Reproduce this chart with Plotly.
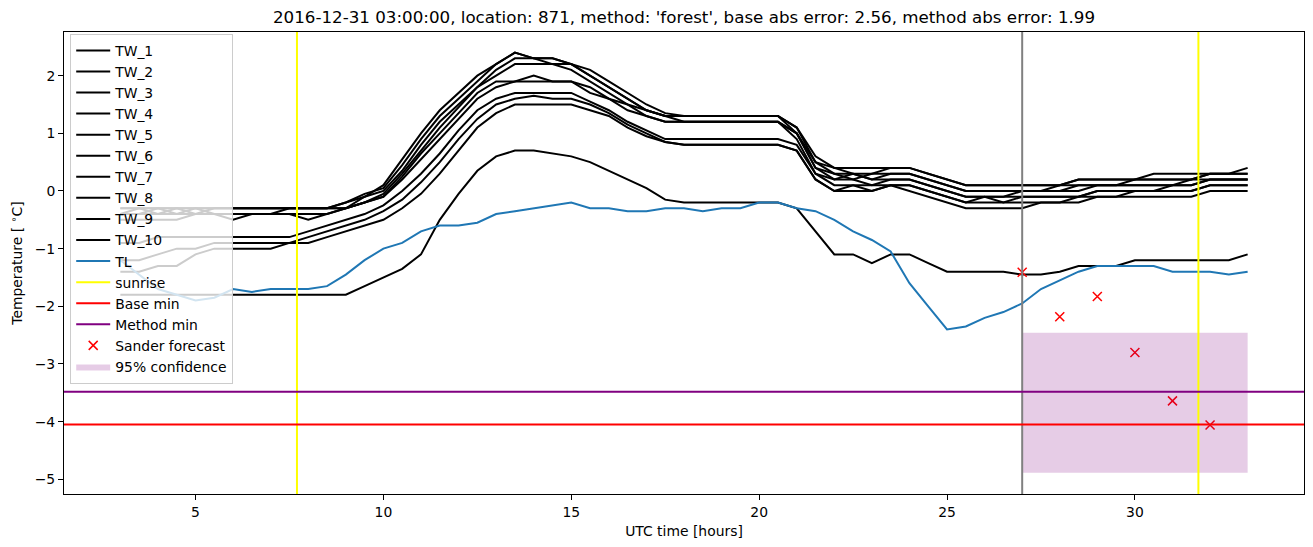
import plotly.graph_objects as go

# ---------------- data ----------------
HOURS = [3.0, 3.5, 4.0, 4.5, 5.0, 5.5, 6.0, 6.5, 7.0, 7.5, 8.0, 8.5, 9.0, 9.5, 10.0, 10.5,
         11.0, 11.5, 12.0, 12.5, 13.0, 13.5, 14.0, 14.5, 15.0, 15.5, 16.0, 16.5, 17.0, 17.5,
         18.0, 18.5, 19.0, 19.5, 20.0, 20.5, 21.0, 21.5, 22.0, 22.5, 23.0, 23.5, 24.0, 24.5,
         25.0, 25.5, 26.0, 26.5, 27.0, 27.5, 28.0, 28.5, 29.0, 29.5, 30.0, 30.5, 31.0, 31.5,
         32.0, 32.5, 33.0]

TW_1 = [-0.3, -0.3, -0.3, -0.3, -0.3, -0.3, -0.3, -0.3, -0.3, -0.3, -0.3, -0.3, -0.2, -0.1, 0.1, 0.55,
        1.0, 1.4, 1.7, 2.0, 2.2, 2.4, 2.3, 2.3, 2.2, 2.0, 1.8, 1.6, 1.4, 1.3,
        1.3, 1.3, 1.3, 1.3, 1.3, 1.3, 1.1, 0.6, 0.4, 0.4, 0.4, 0.4, 0.4, 0.3,
        0.2, 0.1, 0.1, 0.1, 0.1, 0.1, 0.1, 0.2, 0.2, 0.2, 0.2, 0.3, 0.3, 0.3,
        0.3, 0.3, 0.4]
TW_2 = [-0.4, -0.3, -0.4, -0.3, -0.4, -0.3, -0.3, -0.3, -0.3, -0.3, -0.3, -0.3, -0.2, -0.05, 0.05, 0.45,
        0.9, 1.3, 1.6, 1.9, 2.2, 2.4, 2.3, 2.3, 2.2, 2.1, 1.9, 1.7, 1.5, 1.35,
        1.3, 1.3, 1.3, 1.3, 1.3, 1.3, 1.1, 0.5, 0.4, 0.3, 0.3, 0.4, 0.4, 0.3,
        0.2, 0.1, 0.1, 0.1, 0.1, 0.1, 0.1, 0.2, 0.2, 0.2, 0.2, 0.2, 0.2, 0.2,
        0.3, 0.3, 0.3]
TW_3 = [-0.4, -0.4, -0.3, -0.4, -0.3, -0.4, -0.4, -0.4, -0.4, -0.3, -0.3, -0.3, -0.3, -0.1, 0.0, 0.35,
        0.8, 1.2, 1.5, 1.8, 2.1, 2.3, 2.3, 2.2, 2.2, 2.0, 1.8, 1.6, 1.4, 1.3,
        1.2, 1.2, 1.2, 1.2, 1.2, 1.2, 1.0, 0.5, 0.3, 0.3, 0.2, 0.3, 0.3, 0.2,
        0.1, 0.0, 0.0, 0.0, 0.0, 0.0, 0.1, 0.1, 0.1, 0.1, 0.2, 0.2, 0.2, 0.2,
        0.3, 0.3, 0.3]
TW_4 = [-0.4, -0.4, -0.4, -0.4, -0.4, -0.4, -0.5, -0.4, -0.4, -0.4, -0.5, -0.4, -0.3, -0.2, -0.05, 0.3,
        0.7, 1.1, 1.45, 1.8, 2.0, 2.2, 2.2, 2.2, 2.1, 1.9, 1.7, 1.5, 1.3, 1.2,
        1.2, 1.2, 1.2, 1.2, 1.2, 1.2, 1.0, 0.4, 0.3, 0.2, 0.3, 0.3, 0.3, 0.2,
        0.1, 0.0, 0.0, 0.0, 0.0, 0.0, 0.0, 0.1, 0.1, 0.1, 0.1, 0.1, 0.1, 0.2,
        0.2, 0.2, 0.2]
TW_5 = [-0.5, -0.5, -0.5, -0.5, -0.4, -0.4, -0.4, -0.4, -0.4, -0.4, -0.4, -0.4, -0.3, -0.2, -0.1, 0.25,
        0.65, 1.0, 1.35, 1.7, 1.9, 1.9, 2.0, 1.9, 1.9, 1.8, 1.6, 1.5, 1.4, 1.3,
        1.3, 1.3, 1.3, 1.3, 1.3, 1.3, 1.0, 0.4, 0.2, 0.3, 0.2, 0.2, 0.2, 0.1,
        0.0, -0.1, -0.1, -0.1, 0.0, 0.0, 0.0, 0.0, 0.1, 0.1, 0.1, 0.1, 0.1, 0.1,
        0.2, 0.2, 0.2]
TW_6 = [-0.3, -0.3, -0.3, -0.3, -0.3, -0.3, -0.3, -0.3, -0.3, -0.3, -0.3, -0.3, -0.3, -0.2, -0.1, 0.2,
        0.55, 0.9, 1.25, 1.6, 1.8, 1.9, 1.9, 1.9, 1.9, 1.7, 1.6, 1.4, 1.3, 1.2,
        1.2, 1.2, 1.2, 1.2, 1.2, 1.2, 0.9, 0.3, 0.2, 0.2, 0.1, 0.2, 0.2, 0.1,
        0.0, -0.1, -0.1, -0.1, -0.1, -0.1, -0.1, -0.1, 0.0, 0.0, 0.0, 0.0, 0.1, 0.1,
        0.2, 0.2, 0.2]
TW_7 = [-0.9, -0.9, -0.8, -0.8, -0.8, -0.8, -0.8, -0.8, -0.8, -0.8, -0.7, -0.6, -0.5, -0.4, -0.25, 0.0,
        0.3, 0.65, 1.05, 1.4, 1.6, 1.7, 1.7, 1.7, 1.7, 1.55, 1.4, 1.2, 1.05, 0.9,
        0.9, 0.9, 0.9, 0.9, 0.9, 0.9, 0.8, 0.3, 0.1, 0.1, 0.1, 0.1, 0.1, 0.0,
        -0.1, -0.2, -0.1, -0.2, -0.1, -0.1, -0.1, -0.1, 0.0, 0.0, 0.0, 0.0, 0.0, 0.0,
        0.1, 0.1, 0.1]
TW_8 = [-1.2, -1.2, -1.1, -1.0, -1.0, -0.9, -0.9, -0.9, -0.9, -0.9, -0.8, -0.7, -0.6, -0.5, -0.35, -0.15,
        0.15, 0.5, 0.9, 1.25, 1.5, 1.6, 1.65, 1.6, 1.6, 1.5, 1.35, 1.15, 1.0, 0.85,
        0.8, 0.8, 0.8, 0.8, 0.8, 0.8, 0.7, 0.2, 0.0, 0.1, 0.0, 0.1, 0.1, 0.0,
        -0.1, -0.2, -0.2, -0.2, -0.2, -0.2, -0.2, -0.1, -0.1, -0.1, 0.0, 0.0, 0.0, 0.0,
        0.1, 0.1, 0.1]
TW_9 = [-1.4, -1.4, -1.3, -1.3, -1.1, -1.0, -1.0, -1.0, -1.0, -0.9, -0.9, -0.8, -0.7, -0.6, -0.5, -0.3,
        -0.05, 0.3, 0.7, 1.1, 1.35, 1.5, 1.5, 1.5, 1.5, 1.4, 1.3, 1.1, 0.95, 0.85,
        0.8, 0.8, 0.8, 0.8, 0.8, 0.8, 0.7, 0.2, 0.0, 0.0, 0.0, 0.1, 0.0, -0.1,
        -0.2, -0.3, -0.3, -0.3, -0.3, -0.2, -0.2, -0.2, -0.1, -0.1, -0.1, -0.1, -0.1, -0.1,
        0.0, 0.0, 0.0]
TW_10 = [-1.8, -1.8, -1.8, -1.8, -1.8, -1.8, -1.8, -1.8, -1.8, -1.8, -1.8, -1.8, -1.8, -1.65, -1.5, -1.35,
         -1.1, -0.5, -0.05, 0.35, 0.6, 0.7, 0.7, 0.65, 0.6, 0.5, 0.35, 0.2, 0.05, -0.15,
         -0.2, -0.2, -0.2, -0.2, -0.2, -0.2, -0.3, -0.7, -1.1, -1.1, -1.25, -1.1, -1.1, -1.25,
         -1.4, -1.4, -1.4, -1.4, -1.45, -1.45, -1.4, -1.3, -1.3, -1.3, -1.2, -1.2, -1.2, -1.2,
         -1.2, -1.2, -1.1]
TL = [-1.2, -1.45, -1.7, -1.8, -1.9, -1.85, -1.7, -1.75, -1.7, -1.7, -1.7, -1.65, -1.45, -1.2, -1.0, -0.9,
      -0.7, -0.6, -0.6, -0.55, -0.4, -0.35, -0.3, -0.25, -0.2, -0.3, -0.3, -0.35, -0.35, -0.3,
      -0.3, -0.35, -0.3, -0.3, -0.2, -0.2, -0.3, -0.35, -0.5, -0.7, -0.85, -1.05, -1.6, -2.0,
      -2.4, -2.35, -2.2, -2.1, -1.95, -1.7, -1.55, -1.4, -1.3, -1.3, -1.3, -1.3, -1.4, -1.4,
      -1.4, -1.45, -1.4]

SUNRISE = [7.70, 31.69]
FORECAST_TIME = 27.0
BASE_MIN = -4.05
METHOD_MIN = -3.48
SANDER_HOURS = [27, 28, 29, 30, 31, 32]
SANDER_VALUES = [-1.41, -2.18, -1.83, -2.80, -3.64, -4.06]
CONF_HOURS = [27.0, 33.0]
CONF_LOW = -4.885
CONF_HIGH = -2.457

TITLE = ("2016-12-31 03:00:00, location: 871, method: 'forest', "
         "base abs error: 2.56, method abs error: 1.99")

# ---------------- figure ----------------
FONT = "DejaVu Sans"
fig = go.Figure()

tw_series = [TW_1, TW_2, TW_3, TW_4, TW_5, TW_6, TW_7, TW_8, TW_9, TW_10]
for k, vals in enumerate(tw_series, start=1):
    fig.add_trace(go.Scatter(x=HOURS, y=vals, mode="lines", name=f"TW_{k}",
                             line=dict(color="black", width=2)))

fig.add_trace(go.Scatter(x=HOURS, y=TL, mode="lines", name="TL",
                         line=dict(color="#1f77b4", width=2)))

# legend-only entries for the reference lines (drawn as shapes below)
fig.add_trace(go.Scatter(x=[None], y=[None], mode="lines", name="sunrise",
                         line=dict(color="yellow", width=2)))
fig.add_trace(go.Scatter(x=[None], y=[None], mode="lines", name="Base min",
                         line=dict(color="red", width=2)))
fig.add_trace(go.Scatter(x=[None], y=[None], mode="lines", name="Method min",
                         line=dict(color="purple", width=2)))

fig.add_trace(go.Scatter(x=SANDER_HOURS, y=SANDER_VALUES, mode="markers",
                         name="Sander forecast",
                         marker=dict(symbol="x-thin", size=9, color="red",
                                     line=dict(color="red", width=1.5))))

fig.add_trace(go.Scatter(
    x=[CONF_HOURS[0], CONF_HOURS[1], CONF_HOURS[1], CONF_HOURS[0], CONF_HOURS[0]],
    y=[CONF_HIGH, CONF_HIGH, CONF_LOW, CONF_LOW, CONF_HIGH],
    mode="lines", fill="toself", fillcolor="rgba(128,0,128,0.2)",
    line=dict(width=0, color="rgba(128,0,128,0)"), name="95% confidence"))

shapes = []
for s in SUNRISE:
    shapes.append(dict(type="line", xref="x", yref="y domain", x0=s, x1=s, y0=0, y1=1,
                       line=dict(color="yellow", width=2), layer="above"))
shapes.append(dict(type="line", xref="x", yref="y domain", x0=FORECAST_TIME, x1=FORECAST_TIME,
                   y0=0, y1=1, line=dict(color="gray", width=2), layer="above"))
shapes.append(dict(type="line", xref="x domain", yref="y", x0=0, x1=1, y0=BASE_MIN, y1=BASE_MIN,
                   line=dict(color="red", width=2), layer="above"))
shapes.append(dict(type="line", xref="x domain", yref="y", x0=0, x1=1, y0=METHOD_MIN, y1=METHOD_MIN,
                   line=dict(color="purple", width=2), layer="above"))

fig.update_layout(
    width=1313, height=547,
    margin=dict(l=64, r=9, t=32, b=53),
    paper_bgcolor="white", plot_bgcolor="white",
    font=dict(family=FONT, size=13.9, color="black"),
    title=dict(text=TITLE, x=0.5, xref="paper", xanchor="center",
               y=1 - 17.5 / 547, yref="container", yanchor="middle",
               font=dict(family=FONT, size=16.7, color="black")),
    shapes=shapes,
    showlegend=True,
    legend=dict(x=0.005, y=0.996, xanchor="left", yanchor="top",
                bgcolor="rgba(255,255,255,0.8)", bordercolor="#cccccc", borderwidth=1,
                font=dict(family=FONT, size=13.9, color="black"),
                itemwidth=34, traceorder="normal"),
)
fig.update_xaxes(range=[1.5, 34.5], tickvals=[5, 10, 15, 20, 25, 30],
                 showgrid=False, zeroline=False, showline=True, mirror=True,
                 linecolor="black", linewidth=1, ticks="outside", ticklen=5,
                 tickwidth=1, tickcolor="black",
                 title=dict(text="UTC time [hours]", standoff=7,
                            font=dict(family=FONT, size=13.9)))
fig.update_yaxes(range=[-5.255, 2.757], tickvals=[-5, -4, -3, -2, -1, 0, 1, 2],
                 showgrid=False, zeroline=False, showline=True, mirror=True,
                 linecolor="black", linewidth=1, ticks="outside", ticklen=5,
                 tickwidth=1, tickcolor="black",
                 title=dict(text="Temperature [ <sup>∘</sup>C]", standoff=8,
                            font=dict(family=FONT, size=13.9)))

fig.write_html("out.html")
